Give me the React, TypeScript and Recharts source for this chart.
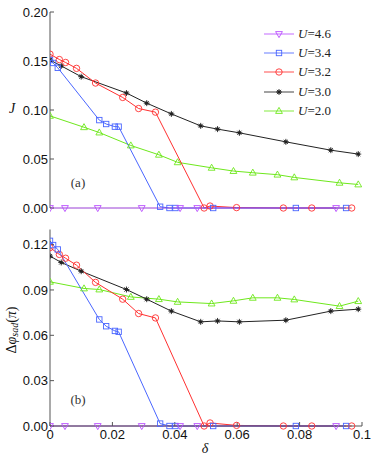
import { LineChart, Line, XAxis, YAxis, Legend } from 'recharts';

// delta values (x) and the two quantities for each U
const dU46 = [0, 0.0048, 0.0153, 0.0294, 0.0417, 0.0472, 0.0917];
const jU46 = [0, 0, 0, 0, 0, 0, 0];
const pU46 = [0, 0, 0, 0, 0, 0, 0];

const dU34 = [0, 0.001, 0.0025, 0.0158, 0.018, 0.0208, 0.022, 0.0353, 0.0383, 0.0402, 0.0523, 0.0788, 0.0949];
const jU34 = [0.151, 0.148, 0.143, 0.0897, 0.0857, 0.083, 0.083, 0.0013, 0, 0, 0, 0, 0];
const pU34 = [0.1225, 0.1197, 0.1168, 0.0705, 0.066, 0.0629, 0.0623, 0.0016, 0, 0, 0, 0, 0];

const dU32 = [0, 0.003, 0.005, 0.0085, 0.0146, 0.0233, 0.0284, 0.0338, 0.0494, 0.0513, 0.0598, 0.0748, 0.0839, 0.0967];
const jU32 = [0.157, 0.1515, 0.1485, 0.1425, 0.1275, 0.1128, 0.1015, 0.0978, 0, 0.002, 0.0004, 0, 0, 0];
const pU32 = [0.118, 0.1135, 0.111, 0.1064, 0.095, 0.0839, 0.0744, 0.0715, 0, 0.002, 0.0004, 0, 0, 0];

const dU30 = [0, 0.0036, 0.01, 0.0245, 0.031, 0.0389, 0.0483, 0.0537, 0.0607, 0.0756, 0.09, 0.0988];
const jU30 = [0.151, 0.145, 0.134, 0.1173, 0.107, 0.096, 0.0838, 0.0805, 0.0767, 0.0675, 0.059, 0.055];
const pU30 = [0.1124, 0.1082, 0.1024, 0.0903, 0.0839, 0.076, 0.0689, 0.0695, 0.0689, 0.07, 0.076, 0.0773];

const dU20 = [0, 0.0109, 0.0158, 0.0259, 0.0349, 0.0409, 0.0518, 0.0588, 0.065, 0.0729, 0.0783, 0.0928, 0.0988];
const jU20 = [0.094, 0.0824, 0.077, 0.0638, 0.0543, 0.0466, 0.041, 0.0377, 0.036, 0.034, 0.0312, 0.0257, 0.024];
const pU20 = [0.0954, 0.091, 0.0903, 0.0854, 0.0839, 0.0821, 0.081, 0.0828, 0.0848, 0.0848, 0.0837, 0.0793, 0.0826];

const xTicks = [0, 0.02, 0.04, 0.06, 0.08, 0.1];
const jTicks = [0, 0.05, 0.1, 0.15, 0.2];
const pTicks = [0, 0.03, 0.06, 0.09, 0.12];

const zip = (xs: number[], ys: number[]) => xs.map((x, i) => ({ x, y: ys[i] }));

type Kind = 'tri-down' | 'square' | 'circle' | 'star' | 'tri-up';

const series = [
  { name: 'U=4.6', label: '4.6', color: '#b94dff', line: '#9a3fd6', kind: 'tri-down' as Kind, d: dU46, j: jU46, p: pU46 },
  { name: 'U=3.4', label: '3.4', color: '#4a66ff', line: '#4a66ff', kind: 'square' as Kind, d: dU34, j: jU34, p: pU34 },
  { name: 'U=3.2', label: '3.2', color: '#ff3030', line: '#ff3030', kind: 'circle' as Kind, d: dU32, j: jU32, p: pU32 },
  { name: 'U=3.0', label: '3.0', color: '#222222', line: '#222222', kind: 'star' as Kind, d: dU30, j: jU30, p: pU30 },
  { name: 'U=2.0', label: '2.0', color: '#6ee81c', line: '#6ee81c', kind: 'tri-up' as Kind, d: dU20, j: jU20, p: pU20 },
];

const Marker = ({ kind, cx, cy, color }: { kind: Kind; cx: number; cy: number; color: string }) => {
  if (kind === 'circle') return <circle cx={cx} cy={cy} r={3.2} fill="none" stroke={color} strokeWidth={0.9} />;
  if (kind === 'square') return <rect x={cx - 2.7} y={cy - 2.7} width={5.4} height={5.4} fill="none" stroke={color} strokeWidth={0.9} />;
  if (kind === 'tri-up')
    return <polygon points={`${cx},${cy - 3.6} ${cx - 3.4},${cy + 2.4} ${cx + 3.4},${cy + 2.4}`} fill="none" stroke={color} strokeWidth={0.9} />;
  if (kind === 'tri-down')
    return <polygon points={`${cx},${cy + 3.6} ${cx - 3.4},${cy - 2.4} ${cx + 3.4},${cy - 2.4}`} fill="none" stroke={color} strokeWidth={0.9} />;
  return (
    <g stroke={color} strokeWidth={0.9}>
      <line x1={cx - 3} y1={cy} x2={cx + 3} y2={cy} />
      <line x1={cx} y1={cy - 3} x2={cx} y2={cy + 3} />
      <line x1={cx - 2.1} y1={cy - 2.1} x2={cx + 2.1} y2={cy + 2.1} />
      <line x1={cx - 2.1} y1={cy + 2.1} x2={cx + 2.1} y2={cy - 2.1} />
      <circle cx={cx} cy={cy} r={1.2} fill={color} />
    </g>
  );
};

const dotFor = (kind: Kind, color: string) => (props: any) => (
  <g key={`${kind}-${props.index}`}>
    <Marker kind={kind} cx={props.cx} cy={props.cy} color={color} />
  </g>
);

const tickFont = { fontFamily: 'Liberation Sans, Arial, sans-serif', fontSize: 13, fill: '#111' };
const axisStroke = '#555';

const LegendBox = () => (
  <div style={{ fontFamily: 'Liberation Serif, DejaVu Serif, serif', fontSize: 13, color: '#222' }}>
    {series.map((s) => (
      <div key={s.name} style={{ display: 'flex', alignItems: 'center', height: 19.3 }}>
        <svg width={34} height={12}>
          <line x1={0} y1={6} x2={30} y2={6} stroke={s.color} strokeWidth={1.2} opacity={0.7} />
          <Marker kind={s.kind} cx={15} cy={6} color={s.color} />
        </svg>
        <span>
          <i>U</i>=
          {s.label}
        </span>
      </div>
    ))}
  </div>
);

const Frame = ({ yTicks, yMax }: { yTicks: number[]; yMax: number }) => [
  <XAxis
    key="xt"
    xAxisId="top"
    orientation="top"
    type="number"
    dataKey="x"
    domain={[0, 0.1]}
    ticks={xTicks}
    height={0}
    tickSize={-4}
    tickFormatter={() => ''}
    stroke={axisStroke}
  />,
  <YAxis
    key="yr"
    yAxisId="right"
    orientation="right"
    type="number"
    domain={[0, yMax]}
    ticks={yTicks}
    width={0}
    tickSize={-4}
    tickFormatter={() => ''}
    stroke={axisStroke}
  />,
];

export default function App() {
  return (
    <div style={{ position: 'absolute', left: 0, top: 0, width: 374, height: 459, background: '#fff' }}>
      <div style={{ position: 'absolute', left: 0, top: 0 }}>
        <LineChart width={374} height={220} margin={{ top: 12, right: 12, bottom: 12, left: 0 }}>
          <XAxis
            type="number"
            dataKey="x"
            domain={[0, 0.1]}
            ticks={xTicks}
            height={0}
            tickSize={-4}
            tickFormatter={() => ''}
            stroke={axisStroke}
            allowDataOverflow
          />
          <YAxis
            type="number"
            domain={[0, 0.2]}
            ticks={jTicks}
            width={50}
            tickSize={-4}
            tickMargin={6}
            tick={tickFont}
            tickFormatter={(v: number) => v.toFixed(2)}
            stroke={axisStroke}
            label={{
              content: () => (
                <text x={12} y={113} textAnchor="middle" fontFamily="Liberation Serif, serif" fontStyle="italic" fontSize={14} fill="#111">
                  J
                </text>
              ),
            }}
          />
          {Frame({ yTicks: jTicks, yMax: 0.2 })}
          {[...series].reverse().map((s) => (
            <Line
              key={s.name}
              data={zip(s.d, s.j)}
              dataKey="y"
              name={s.name}
              stroke={s.line}
              strokeWidth={1}
              dot={dotFor(s.kind, s.color)}
              activeDot={false}
              isAnimationActive={false}
            />
          ))}
          <Legend
            layout="vertical"
            align="center"
            verticalAlign="middle"
            content={() => <LegendBox />}
            wrapperStyle={{ left: 264, top: 24, width: 90, height: 100 }}
          />
          <text x={78} y={187} textAnchor="middle" fontFamily="Liberation Serif, serif" fontSize={13} fill="#333">
            (a)
          </text>
        </LineChart>
      </div>
      <div style={{ position: 'absolute', left: 0, top: 218 }}>
        <LineChart width={374} height={241} margin={{ top: 11.5, right: 12, bottom: 0, left: 0 }}>
          <XAxis
            type="number"
            dataKey="x"
            domain={[0, 0.1]}
            ticks={xTicks}
            height={33}
            tickSize={-4}
            tickMargin={8}
            tick={tickFont}
            tickFormatter={(v: number) => String(v)}
            stroke={axisStroke}
            allowDataOverflow
            label={{
              content: () => (
                <text x={205} y={235} textAnchor="middle" fontFamily="Liberation Serif, serif" fontStyle="italic" fontSize={14} fill="#111">
                  δ
                </text>
              ),
            }}
          />
          <YAxis
            type="number"
            domain={[0, 0.13]}
            ticks={pTicks}
            width={50}
            tickSize={-4}
            tickMargin={6}
            tick={tickFont}
            tickFormatter={(v: number) => v.toFixed(2)}
            stroke={axisStroke}
            label={{
              content: () => (
                <text
                  x={13}
                  y={112}
                  transform="rotate(-90, 13, 112)"
                  textAnchor="middle"
                  dominantBaseline="middle"
                  fontFamily="Liberation Serif, serif"
                  fontSize={14}
                  fill="#111"
                >
                  Δ<tspan fontStyle="italic">φ</tspan>
                  <tspan fontStyle="italic" fontSize={10} dy={3}>
                    sad
                  </tspan>
                  <tspan dy={-3}>(</tspan>
                  <tspan fontStyle="italic">π</tspan>)
                </text>
              ),
            }}
          />
          {Frame({ yTicks: pTicks, yMax: 0.13 })}
          {[...series].reverse().map((s) => (
            <Line
              key={s.name}
              data={zip(s.d, s.p)}
              dataKey="y"
              name={s.name}
              stroke={s.line}
              strokeWidth={1}
              dot={dotFor(s.kind, s.color)}
              activeDot={false}
              isAnimationActive={false}
            />
          ))}
          <text x={78} y={186} textAnchor="middle" fontFamily="Liberation Serif, serif" fontSize={13} fill="#333">
            (b)
          </text>
        </LineChart>
      </div>
    </div>
  );
}
